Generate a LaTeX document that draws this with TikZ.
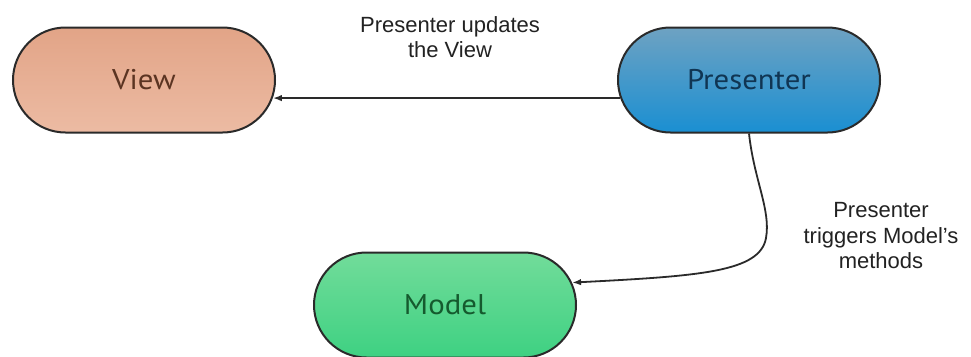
\documentclass[tikz,border=0pt]{standalone}
\usepackage{fontspec}
\setmainfont{Liberation Sans}
\newfontfamily\nodefont[FakeStretch=1.08]{PT Sans}
\usetikzlibrary{shapes.misc,arrows.meta}
\definecolor{edgecol}{HTML}{2A2A2A}
\definecolor{viewtop}{HTML}{E2A487}
\definecolor{viewbot}{HTML}{ECBBA3}
\definecolor{viewtxt}{HTML}{5B3422}
\definecolor{prestop}{HTML}{6EA2C2}
\definecolor{presbot}{HTML}{1A8FD2}
\definecolor{prestxt}{HTML}{103553}
\definecolor{modtop}{HTML}{72DC9A}
\definecolor{modbot}{HTML}{3ED182}
\definecolor{modtxt}{HTML}{155A2E}
\definecolor{labtxt}{HTML}{222222}
\tikzset{
  pill/.style={rounded rectangle, draw=edgecol, line width=2pt,
    minimum width=262pt, minimum height=105pt, inner sep=0pt,
    font=\nodefont\fontsize{28.5}{32}\selectfont},
  conn/.style={draw=edgecol, line width=1.8pt, -{Latex[length=9pt,width=6.5pt]}},
  lab/.style={align=center, text=labtxt, inner sep=0pt,
    font=\fontsize{22}{25.5}\selectfont}
}
\begin{document}
\begin{tikzpicture}[x=1pt,y=-1pt]
\useasboundingbox[fill=white] (0,0) rectangle (971,356);
\node[pill, top color=viewtop, bottom color=viewbot, text=viewtxt] (V) at (144,80) {View};
\node[pill, top color=prestop, bottom color=presbot, text=prestxt] (P) at (749,80) {Presenter};
\node[pill, top color=modtop, bottom color=modbot, text=modtxt] (M) at (445,305) {Model};
\node[lab] (L1) at (450,37) {Presenter updates\\the View};
\node[lab] (L2) at (881,236) {Presenter\\triggers Model's\\methods};
\draw[conn] (P.188) -- (V.-8 |- P.188);
\coordinate (bend) at (766,238);
\draw[conn] (P.south) .. controls (754,180) and (771,210) .. (bend)
  .. controls (760,272) and (700,276) .. (M.10);
\end{tikzpicture}
\end{document}
